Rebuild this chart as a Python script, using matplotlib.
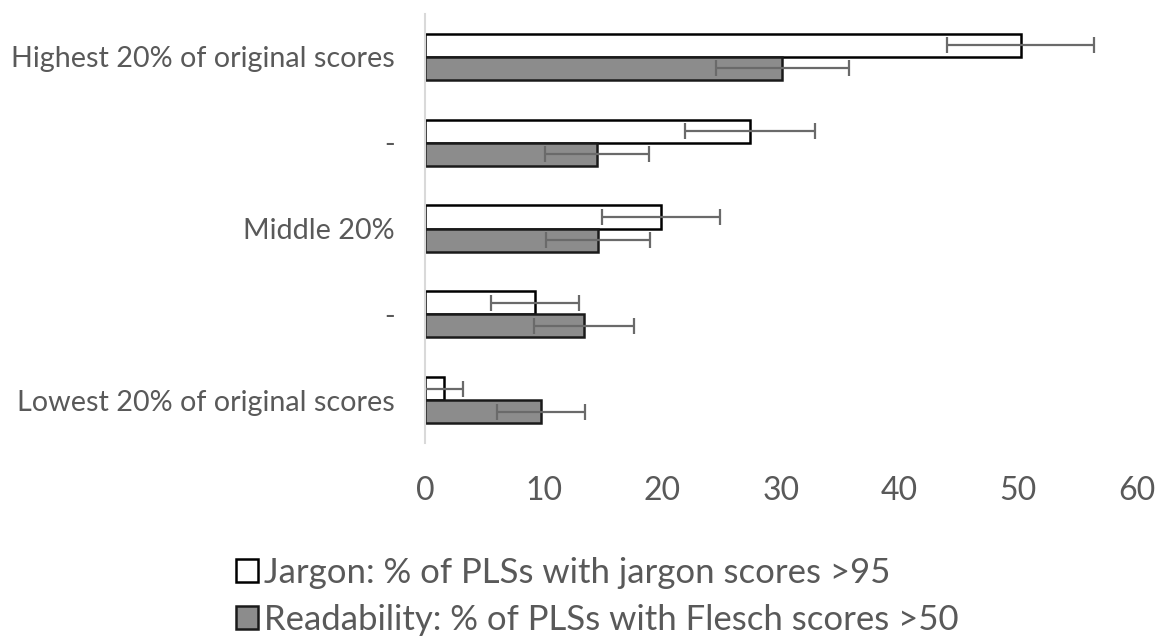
import matplotlib
matplotlib.use("Agg")
import matplotlib.pyplot as plt
import numpy as np

categories = ["Highest 20% of original scores", "-", "Middle 20%", "-", "Lowest 20% of original scores"]
jargon = [50.2, 27.4, 19.9, 9.3, 1.6]
jargon_err = [6.2, 5.5, 5.0, 3.7, 1.6]
readability = [30.1, 14.5, 14.6, 13.4, 9.8]
readability_err = [5.6, 4.4, 4.4, 4.2, 3.7]
xticks = [0, 10, 20, 30, 40, 50, 60]
series_labels = ["Jargon: % of PLSs with jargon scores >95",
                 "Readability: % of PLSs with Flesch scores >50"]

plt.rcParams['font.family'] = ['Lato', 'DejaVu Sans']
text_color = '#595959'

fig = plt.figure(figsize=(11.61, 6.37), dpi=100)
ax = fig.add_axes([425/1161, 1-443/637, (1137-425)/1161, (443-14)/637])

y = np.arange(len(categories))
h = 0.27
ekw = dict(ecolor='#6a6a6a', elinewidth=1.6, capsize=6, capthick=1.6)
b1 = ax.barh(y - h/2, jargon, height=h, color='white', edgecolor='black', linewidth=1.8,
             xerr=jargon_err, error_kw=ekw, label=series_labels[0])
b2 = ax.barh(y + h/2, readability, height=h, color='#8c8c8c', edgecolor='#1a1a1a', linewidth=1.8,
             xerr=readability_err, error_kw=ekw, label=series_labels[1])

ax.set_ylim(len(categories) - 0.5, -0.5)
ax.set_xlim(0, 60)
ax.set_xticks(xticks)
ax.set_yticks(y)
ax.set_yticklabels(categories)
for s in ['top', 'right', 'bottom']:
    ax.spines[s].set_visible(False)
ax.spines['left'].set_color('#d9d9d9')
ax.spines['left'].set_linewidth(1.5)
ax.tick_params(axis='x', length=0, pad=24, labelsize=23, labelcolor=text_color)
ax.tick_params(axis='y', length=0, pad=22, labelsize=20.7, labelcolor=text_color)

leg = fig.legend(handles=[b1, b2], labels=series_labels, loc='upper left',
                 bbox_to_anchor=(222/1161, 1-543/637), frameon=False, fontsize=25,
                 handlelength=0.65, handleheight=0.65, handletextpad=0.15, labelspacing=0.43,
                 labelcolor=text_color, borderaxespad=0)

fig.savefig("out.png", dpi=100)
